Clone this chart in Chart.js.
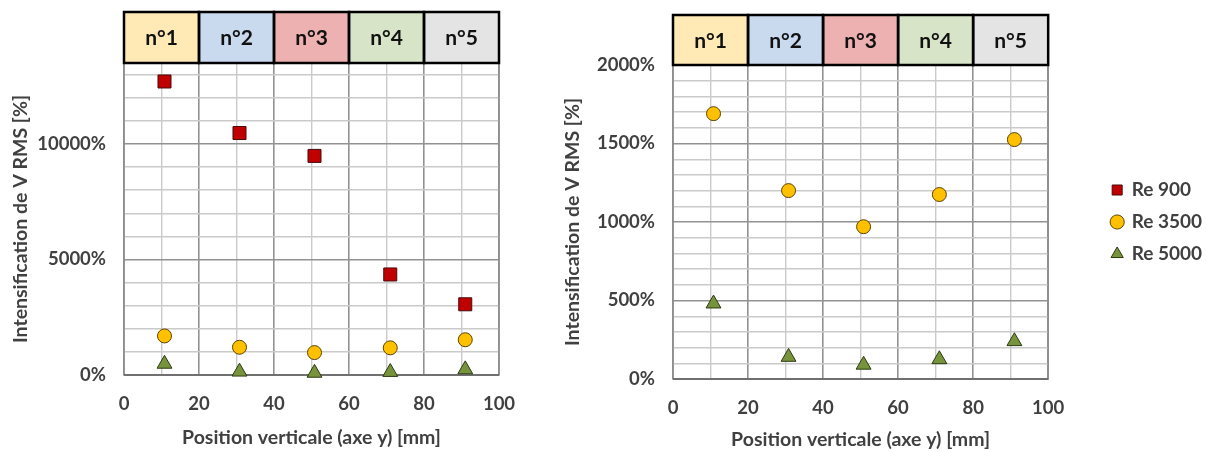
<!DOCTYPE html>
<html><head><meta charset="utf-8">
<script src="https://cdn.jsdelivr.net/npm/chart.js@4.4.1/dist/chart.umd.min.js"></script>
<style>
body{margin:0;background:#fff;}
#c1{position:absolute;left:0;top:0}
#c2{position:absolute;left:560px;top:0}
</style>
</head><body>
<canvas id="c1" width="560" height="452"></canvas>
<canvas id="c2" width="647" height="452"></canvas>
<script>
// ---- data ----
const positions = [10.8, 30.8, 50.8, 71, 91];
const re900 = [12700, 10470, 9480, 4350, 3060];
const re3500 = [1690, 1200, 970, 1175, 1525];
const re5000 = [480, 140, 90, 125, 240];
const seriesNames = ['Re 900', 'Re 3500', 'Re 5000'];
const zoneLabels = ['n°1', 'n°2', 'n°3', 'n°4', 'n°5'];
const zoneBounds = [0, 20, 40, 60, 80, 100];
const xTitle = 'Position verticale (axe y) [mm]';
const yTitle = 'Intensification de V RMS [%]';

const zoneColors = ['#FFE9B5', '#C9D9EE', '#ECB1B0', '#D8E4C7', '#E4E4E4'];
const FONT = 'Lato, "Open Sans", sans-serif';
const TXT = '#404040';
const MAJOR = '#929292', MINOR = '#cacaca';

function pts(vals){ return vals.map((v,i)=>({x: positions[i], y: v})); }
function isMul(v, m){ return Math.round(v) % m === 0; }

const zonePlugin = {
  id: 'zones',
  beforeDatasetsDraw(chart) {
    const {ctx, chartArea: a} = chart;
    ctx.save();
    ctx.strokeStyle = '#8c8c8c';
    ctx.lineWidth = 1.5;
    ctx.strokeRect(a.left, a.top, a.right - a.left, a.bottom - a.top);
    ctx.strokeStyle = '#707070';
    ctx.lineWidth = 2;
    ctx.beginPath(); ctx.moveTo(a.left, a.bottom); ctx.lineTo(a.right, a.bottom); ctx.stroke();
    ctx.restore();
  },
  afterDraw(chart, args, opts) {
    const {ctx, chartArea: a, scales: {x}} = chart;
    ctx.save();
    for (let i = 0; i < zoneLabels.length; i++) {
      const x0 = x.getPixelForValue(zoneBounds[i]);
      const x1 = x.getPixelForValue(zoneBounds[i+1]);
      ctx.fillStyle = zoneColors[i];
      ctx.fillRect(x0, opts.top, x1 - x0, a.top - opts.top);
    }
    ctx.strokeStyle = '#000';
    ctx.lineWidth = 2.5;
    for (let i = 0; i < zoneLabels.length; i++) {
      const x0 = x.getPixelForValue(zoneBounds[i]);
      const x1 = x.getPixelForValue(zoneBounds[i+1]);
      ctx.strokeRect(x0, opts.top, x1 - x0, a.top - opts.top);
      ctx.fillStyle = '#111';
      ctx.font = 'bold 21px ' + FONT;
      ctx.textAlign = 'center';
      ctx.textBaseline = 'middle';
      ctx.fillText(zoneLabels[i], (x0 + x1) / 2, (opts.top + a.top) / 2 + 1);
    }
    ctx.restore();
  }
};

function datasets(clip900) {
  return [
    {label: seriesNames[0], data: pts(re900), pointStyle: 'rect', pointRadius: 9.2,
     backgroundColor: '#C00000', borderColor: '#4a0a0a', borderWidth: 1, clip: clip900},
    {label: seriesNames[1], data: pts(re3500), pointStyle: 'circle', pointRadius: 7,
     backgroundColor: '#FFC000', borderColor: '#5a4400', borderWidth: 1, clip: false},
    {label: seriesNames[2], data: pts(re5000), pointStyle: 'triangle', pointRadius: 8.6,
     backgroundColor: '#77933C', borderColor: '#2c3a12', borderWidth: 1, clip: false}
  ];
}

function makeOptions(cfg) {
  const scales = {
    x: {
      type: 'linear', min: 0, max: 100,
      afterFit(s) { s.height = cfg.xHeight; },
      ticks: { stepSize: 10, maxTicksLimit: 100, padding: cfg.xTickPad, color: TXT,
        font: {family: FONT, size: 18.5, weight: 'bold'},
        callback: v => (isMul(v, 20) ? String(v) : ''), maxRotation: 0, autoSkip: false },
      grid: { drawTicks: false, color: c => (isMul(c.tick.value, 20) ? MAJOR : MINOR),
        lineWidth: c => (isMul(c.tick.value, 20) ? 1.6 : 1.4) },
      border: { display: false },
      title: { display: true, text: xTitle, color: TXT, font: {family: FONT, size: 19.5, weight: 'bold'},
        padding: {top: 0, bottom: cfg.xTitlePad} }
    },
    y: {
      type: 'linear', min: 0, max: cfg.yMax,
      afterFit(s) { s.width = cfg.yWidth; },
      afterBuildTicks(s) {
        const t = [];
        for (let v = 0; v <= cfg.yMax; v += cfg.yStep) t.push({value: v});
        s.ticks = t;
      },
      ticks: { padding: 18, color: TXT,
        font: {family: FONT, size: 18.5, weight: 'bold'},
        callback: v => (isMul(v, cfg.yMajor) ? Math.round(v) + '%' : ''), autoSkip: false },
      grid: { drawTicks: false, color: c => (isMul(c.tick.value, cfg.yMajor) ? MAJOR : MINOR),
        lineWidth: c => (isMul(c.tick.value, cfg.yMajor) ? 1.6 : 1.4) },
      border: { display: false },
      title: { display: true, text: yTitle, color: TXT, font: {family: FONT, size: 19.5, weight: 'bold'},
        padding: {top: cfg.yTitlePad, bottom: 0} }
    }
  };
  if (cfg.gap) {
    scales.gap = { type: 'linear', axis: 'y', position: 'right', display: true,
      afterFit(s) { s.width = cfg.gap; },
      ticks: { display: false }, grid: { display: false }, border: { display: false } };
  }
  return {
    responsive: false, animation: false, devicePixelRatio: 1,
    layout: { padding: cfg.padding },
    scales,
    plugins: {
      legend: cfg.legend ? {
        display: true, position: 'right', align: 'center', fullSize: false,
        labels: { usePointStyle: true, boxWidth: 10, boxHeight: 10, padding: 13, color: TXT,
          font: {family: FONT, size: 19, weight: 'bold'} }
      } : { display: false },
      tooltip: { enabled: false },
      zones: { top: cfg.headerTop }
    }
  };
}

new Chart(document.getElementById('c1'), {
  type: 'scatter',
  data: { datasets: datasets(false) },
  options: makeOptions({ xHeight: 77, yWidth: 124, xTickPad: 18, xTitlePad: 3, yTitlePad: 9,
    yMax: 13500, yStep: 1000, yMajor: 5000, padding: {left: 0, top: 63, right: 61, bottom: 0},
    headerTop: 12, legend: false }),
  plugins: [zonePlugin]
});

new Chart(document.getElementById('c2'), {
  type: 'scatter',
  data: { datasets: datasets(true) },
  options: makeOptions({ xHeight: 73, yWidth: 113, xTickPad: 18, xTitlePad: 1, yTitlePad: 1,
    yMax: 2000, yStep: 100, yMajor: 500, padding: {left: 0, top: 65, right: 0, bottom: 0},
    headerTop: 15, legend: true, gap: 51 }),
  plugins: [zonePlugin]
});
</script>
</body></html>
